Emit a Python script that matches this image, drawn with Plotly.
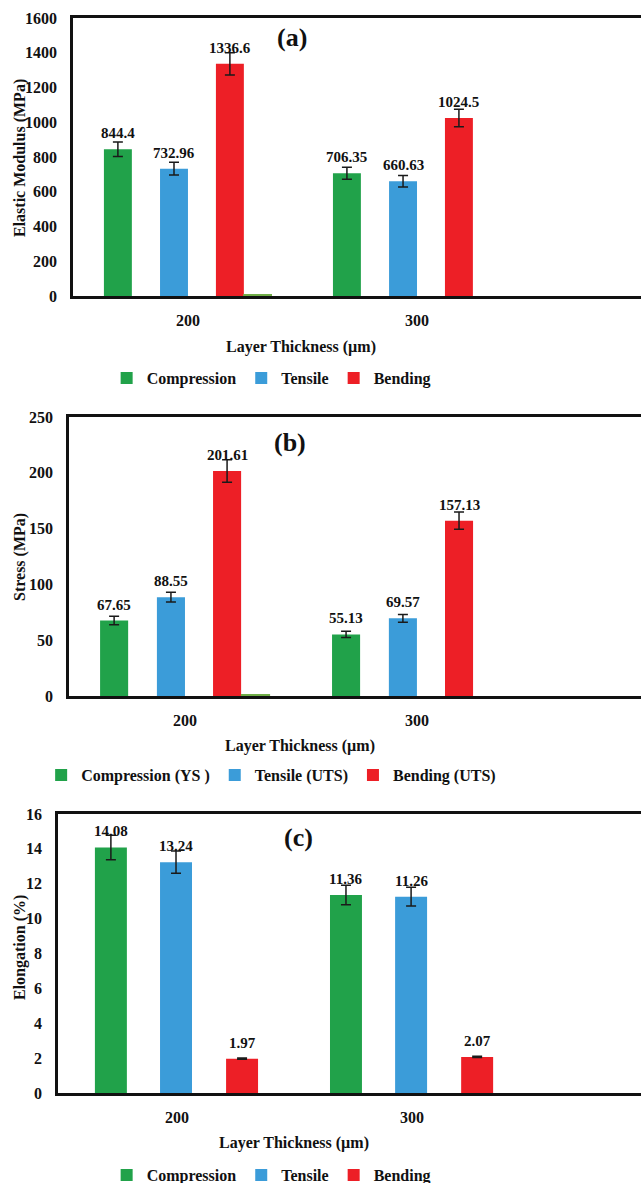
import plotly.graph_objects as go

W, H = 641, 1183

# ---------------- data ----------------
categories = ["200", "300"]

mod_compression = [844.4, 706.35]
mod_tensile = [732.96, 660.63]
mod_bending = [1336.6, 1024.5]
mod_err_compression = [42, 35]
mod_err_tensile = [37, 33]
mod_err_bending = [64, 51]
mod_extra = [8, 0]

str_compression = [67.65, 55.13]
str_tensile = [88.55, 69.57]
str_bending = [201.61, 157.13]
str_err_compression = [3.9, 2.8]
str_err_tensile = [4.4, 3.5]
str_err_bending = [10.1, 7.8]
str_extra = [1.3, 0]

elo_compression = [14.08, 11.36]
elo_tensile = [13.24, 11.26]
elo_bending = [1.97, 2.07]
elo_err_compression = [0.7, 0.56]
elo_err_tensile = [0.64, 0.54]
elo_err_bending = [0.04, 0.04]

names_a = ["Compression", "Tensile", "Bending"]
names_b = ["Compression (YS )", "Tensile (UTS)", "Bending (UTS)"]
names_c = ["Compression", "Tensile", "Bending"]

# ---------------- style ----------------
GREEN = "#21A24A"
BLUE = "#3B9CD9"
RED = "#ED1F26"
LIGHTGREEN = "#70AD47"
INK = "#111111"
FONT = "Liberation Serif"
colors = [GREEN, BLUE, RED]


def bfont(size):
    return dict(family=FONT, size=size, color=INK, weight="bold")


def px_x(p):
    return p / W


def px_y(p):
    return 1 - p / H


panels = [
    dict(vals=[mod_compression, mod_tensile, mod_bending],
         errs=[mod_err_compression, mod_err_tensile, mod_err_bending],
         extra=mod_extra, names=names_a, letter="(a)",
         ytitle="Elastic Modulus (MPa)", yrange=[0, 1600], dtick=200,
         left=73, top=18, bottom=296, xrange=[-0.502, 1.978],
         offsets=[-0.367, -0.122, 0.122], width=0.122,
         xtitle_pos=(301, 347), ytitle_pos=(20, 158), letter_pos=(292, 37),
         legend_y=378),
    dict(vals=[str_compression, str_tensile, str_bending],
         errs=[str_err_compression, str_err_tensile, str_err_bending],
         extra=str_extra, names=names_b, letter="(b)",
         ytitle="Stress (MPa)", yrange=[0, 250], dtick=50,
         left=69, top=417, bottom=696, xrange=[-0.5, 1.966],
         offsets=[-0.366, -0.121, 0.121], width=0.121,
         xtitle_pos=(300, 746), ytitle_pos=(20, 557), letter_pos=(290, 442),
         legend_y=775),
    dict(vals=[elo_compression, elo_tensile, elo_bending],
         errs=[elo_err_compression, elo_err_tensile, elo_err_bending],
         extra=None, names=names_c, letter="(c)",
         ytitle="Elongation (%)", yrange=[0, 16], dtick=2,
         left=58, top=814, bottom=1093, xrange=[-0.506, 1.974],
         offsets=[-0.349, -0.072, 0.209], width=0.136,
         xtitle_pos=(294, 1143), ytitle_pos=(20, 948), letter_pos=(298, 837),
         legend_y=1175),
]

fig = go.Figure()
xpos = list(range(len(categories)))
annotations = []
layout_axes = {}

for k, p in enumerate(panels):
    sfx = "" if k == 0 else str(k + 1)
    xa, ya = "x" + sfx, "y" + sfx
    leg = "legend" + sfx
    for s in range(3):
        fig.add_trace(go.Bar(
            x=xpos, y=p["vals"][s], name=p["names"][s],
            marker=dict(color=colors[s], line=dict(width=0)),
            offset=p["offsets"][s], width=p["width"],
            error_y=dict(type="data", array=p["errs"][s], color="#1a1a1a",
                         thickness=1.5, width=5, visible=True),
            xaxis=xa, yaxis=ya, legend=leg,
        ))
        for i, v in enumerate(p["vals"][s]):
            annotations.append(dict(
                x=xpos[i] + p["offsets"][s] + p["width"] / 2, y=v,
                xref=xa, yref=ya, text=f"{v:g}", showarrow=False,
                yanchor="bottom", yshift=6,
                font=bfont(15),
            ))
    if p["extra"] is not None:
        fig.add_trace(go.Bar(
            x=xpos, y=p["extra"], name="", showlegend=False,
            marker=dict(color=LIGHTGREEN, line=dict(width=0)),
            offset=0.241, width=0.126, xaxis=xa, yaxis=ya,
            hoverinfo="skip",
        ))
    xd = [px_x(p["left"]), 1.0]
    yd = [px_y(p["bottom"]), px_y(p["top"])]
    layout_axes["xaxis" + sfx] = dict(
        domain=xd, range=p["xrange"], tickvals=xpos, ticktext=categories,
        showline=True, linecolor=INK, linewidth=2.5, mirror=True,
        ticks="", showgrid=False, zeroline=False, anchor=ya,
        tickfont=bfont(16), ticklabelstandoff=8, fixedrange=True,
    )
    layout_axes["yaxis" + sfx] = dict(
        domain=yd, range=p["yrange"], dtick=p["dtick"],
        showline=True, linecolor=INK, linewidth=2.5, mirror=False,
        ticks="", showgrid=False, zeroline=False, anchor=xa,
        tickfont=bfont(16), ticklabelstandoff=10, fixedrange=True,
    )
    annotations.append(dict(
        x=px_x(p["xtitle_pos"][0]), y=px_y(p["xtitle_pos"][1]),
        xref="paper", yref="paper", text="Layer Thickness (µm)",
        showarrow=False, xanchor="center", yanchor="middle",
        font=bfont(16)))
    annotations.append(dict(
        x=px_x(p["ytitle_pos"][0]), y=px_y(p["ytitle_pos"][1]),
        xref="paper", yref="paper", text=p["ytitle"], textangle=-90,
        showarrow=False, xanchor="center", yanchor="middle",
        font=bfont(16)))
    annotations.append(dict(
        x=px_x(p["letter_pos"][0]), y=px_y(p["letter_pos"][1]),
        xref="paper", yref="paper", text=p["letter"],
        showarrow=False, xanchor="center", yanchor="middle",
        font=bfont(26)))
    layout_axes[leg] = dict(
        orientation="h", x=0.423, xanchor="center",
        y=px_y(p["legend_y"]), yanchor="middle",
        font=bfont(16),
        bgcolor="rgba(0,0,0,0)", itemclick=False, itemdoubleclick=False,
        tracegroupgap=0,
    )

fig.update_layout(
    width=W, height=H,
    margin=dict(l=0, r=0, t=0, b=0, autoexpand=False),
    paper_bgcolor="white", plot_bgcolor="white",
    barmode="overlay", showlegend=True,
    annotations=annotations,
    font=dict(family=FONT, color=INK),
    **layout_axes,
)

fig.write_html("out.html")
